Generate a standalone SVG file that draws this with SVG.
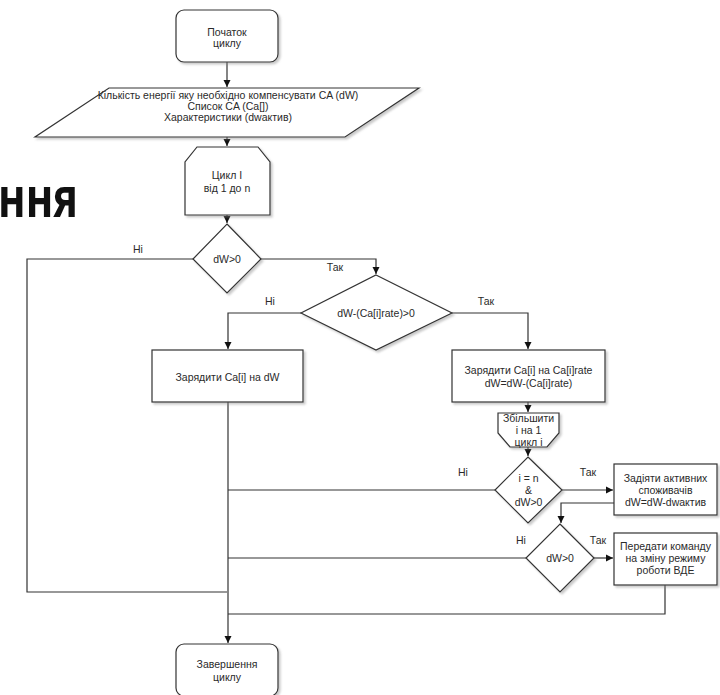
<svg xmlns="http://www.w3.org/2000/svg" width="720" height="695" viewBox="0 0 720 695">
<style>
.shape{fill:#fff;stroke:#333;stroke-width:1.2;filter:url(#sh)}
.t{font-family:"Liberation Sans",Arial,sans-serif;font-size:10.5px;fill:#2a2a2a;text-anchor:middle}
.lbl{font-family:"Liberation Sans",Arial,sans-serif;font-size:10.5px;fill:#2a2a2a;text-anchor:middle}
.c{fill:none;stroke:#333;stroke-width:1.2}
.big{font-family:"Open Sans","Noto Sans",sans-serif;font-weight:700;font-size:56px;fill:#111}
</style>
<defs>
<filter id="sh" x="-10%" y="-10%" width="130%" height="140%">
<feDropShadow dx="2" dy="2" stdDeviation="1.2" flood-color="#888" flood-opacity="0.45"/>
</filter>
<marker id="ar" markerWidth="8" markerHeight="8" refX="7" refY="4" orient="auto" markerUnits="userSpaceOnUse">
<path d="M0,0.5 L7,4 L0,7.5 Z" fill="#111"/>
</marker>
</defs>
<rect width="720" height="695" fill="#fff"/>
<text class="big" x="-2" y="217" textLength="80" lengthAdjust="spacingAndGlyphs">ння</text>

<g id="connectors">
<path class="c" d="M227,62 V87" marker-end="url(#ar)"/>
<path class="c" d="M227,137 V146" marker-end="url(#ar)"/>
<path class="c" d="M227,215 V223" marker-end="url(#ar)"/>
<path class="c" d="M193,259 H27 V592 H227"/>
<path class="c" d="M261,259 H376 V274" marker-end="url(#ar)"/>
<path class="c" d="M301,313 H228 V349" marker-end="url(#ar)"/>
<path class="c" d="M452,313 H528 V349" marker-end="url(#ar)"/>
<path class="c" d="M228,402 V643" marker-end="url(#ar)"/>
<path class="c" d="M528,402 V412" marker-end="url(#ar)"/>
<path class="c" d="M528,447 V456" marker-end="url(#ar)"/>
<path class="c" d="M495,490 H228"/>
<path class="c" d="M562,490 H613" marker-end="url(#ar)"/>
<path class="c" d="M614,503 H561 V523" marker-end="url(#ar)"/>
<path class="c" d="M526,558 H228"/>
<path class="c" d="M594,558 H613" marker-end="url(#ar)"/>
<path class="c" d="M665,585 V614 H228"/>
<text class="lbl" x="138" y="253">Ні</text>
<text class="lbl" x="335" y="271">Так</text>
<text class="lbl" x="270" y="305">Ні</text>
<text class="lbl" x="486" y="305">Так</text>
<text class="lbl" x="463" y="476">Ні</text>
<text class="lbl" x="588" y="476">Так</text>
<text class="lbl" x="521" y="544">Ні</text>
<text class="lbl" x="598" y="544">Так</text>
</g>

<g id="start">
<rect class="shape" x="176" y="10" width="102" height="52" rx="8"/>
<text class="t" x="227" y="35.5">Початок</text>
<text class="t" x="227" y="47">циклу</text>
</g>

<g id="input">
<polygon class="shape" points="109,88 419,88 345,137 35,137"/>
<text class="t" x="228" y="98.5">Кількість енергії яку необхідно компенсувати CA (dW)</text>
<text class="t" x="228" y="109.5">Список CA (Ca[])</text>
<text class="t" x="228" y="120.5">Характеристики (dwактив)</text>
</g>

<g id="loop-start">
<polygon class="shape" points="197,147 258,147 270,162 270,215 185,215 185,162"/>
<text class="t" x="227" y="178.5">Цикл І</text>
<text class="t" x="227" y="191.5">від 1 до n</text>
</g>

<g id="cond1">
<polygon class="shape" points="227,224 261,259 227,293 193,259"/>
<text class="t" x="227" y="262.5">dW&gt;0</text>
</g>

<g id="cond2">
<polygon class="shape" points="376,275 452,313 376,350 301,313"/>
<text class="t" x="376" y="316.5">dW-(Ca[i]rate)&gt;0</text>
</g>

<g id="charge-dw">
<rect class="shape" x="152" y="350" width="151" height="52"/>
<text class="t" x="227.5" y="380.5">Зарядити Ca[i] на dW</text>
</g>

<g id="charge-rate">
<rect class="shape" x="452" y="350" width="153" height="52"/>
<text class="t" x="528.5" y="373.5">Зарядити Ca[i] на Ca[i]rate</text>
<text class="t" x="528.5" y="386.5">dW=dW-(Ca[i]rate)</text>
</g>

<g id="loop-end">
<polygon class="shape" points="498,413 559,413 559,433 547,447 510,447 498,433"/>
<text class="t" x="528.5" y="421.5">Збільшити</text>
<text class="t" x="528.5" y="433.5">і на 1</text>
<text class="t" x="528.5" y="445.5">цикл і</text>
</g>

<g id="cond3">
<polygon class="shape" points="528,457 562,490 528,523 495,490"/>
<text class="t" x="528.5" y="481.5">i = n</text>
<text class="t" x="528.5" y="493.5">&amp;</text>
<text class="t" x="528.5" y="505.5">dW&gt;0</text>
</g>

<g id="activate">
<rect class="shape" x="614" y="464" width="103" height="51"/>
<text class="t" x="665.5" y="481.5">Задіяти активних</text>
<text class="t" x="665.5" y="493.5">споживачів</text>
<text class="t" x="665.5" y="505.5">dW=dW-dwактив</text>
</g>

<g id="cond4">
<polygon class="shape" points="560,524 594,558 560,592 526,558"/>
<text class="t" x="560" y="561.5">dW&gt;0</text>
</g>

<g id="send-command">
<rect class="shape" x="614" y="533" width="103" height="52"/>
<text class="t" x="665.5" y="549.5">Передати команду</text>
<text class="t" x="665.5" y="561.5">на зміну режиму</text>
<text class="t" x="665.5" y="573.5">роботи ВДЕ</text>
</g>

<g id="end">
<rect class="shape" x="176" y="644" width="102" height="52" rx="8"/>
<text class="t" x="227" y="667.5">Завершення</text>
<text class="t" x="227" y="680.5">циклу</text>
</g>
</svg>
